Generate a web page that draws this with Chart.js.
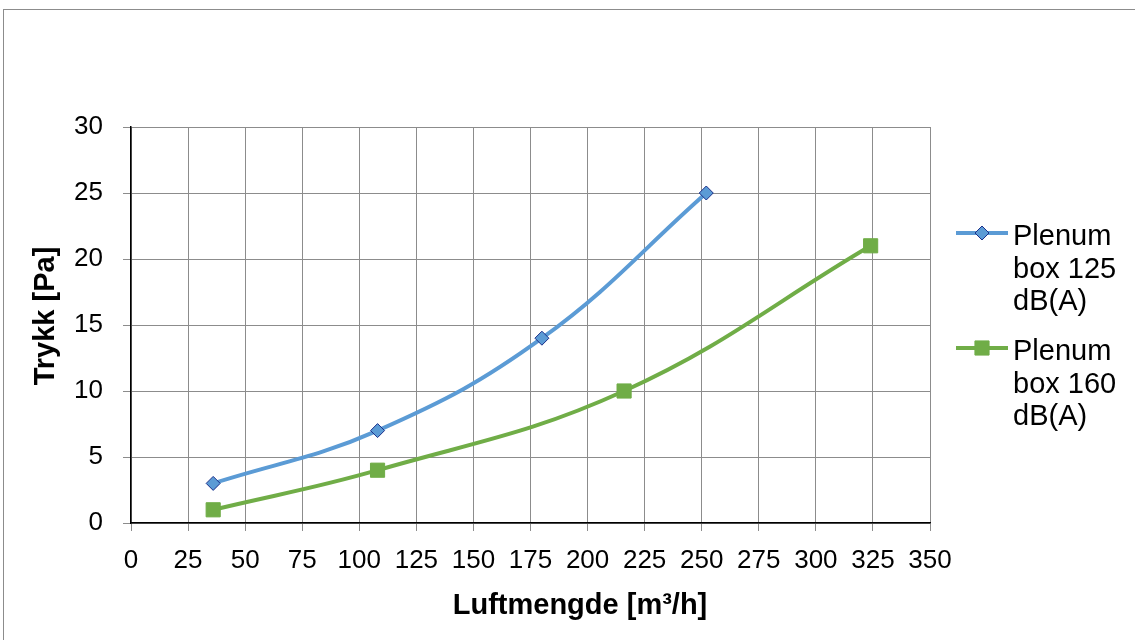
<!DOCTYPE html>
<html>
<head>
<meta charset="utf-8">
<script src="https://cdn.jsdelivr.net/npm/chart.js@4"></script>
<style>
  html, body { margin: 0; padding: 0; background: #fff; }
  #wrap { width: 1135px; height: 640px; }
</style>
</head>
<body>
<div id="wrap"><canvas id="trykkChart"></canvas></div>
<script>
// data
const flow125 = [36, 108, 180, 252];
const trykk125 = [3, 7, 14, 25];
const flow160 = [36, 108, 216, 324];
const trykk160 = [1, 4, 10, 21];
const seriesNames = [['Plenum', 'box 125', 'dB(A)'], ['Plenum', 'box 160', 'dB(A)']];
const xTitle = 'Luftmengde [m³/h]';
const yTitle = 'Trykk [Pa]';

const blue = '#5B9BD5';
const green = '#70AD47';
const fontFam = '"Liberation Sans", Arial, sans-serif';

function toPoints(xs, ys) {
    return xs.map(function(x, i) { return { x: x, y: ys[i] }; });
}

// outer frame like the spreadsheet chart border
const framePlugin = {
    id: 'frame',
    beforeDraw: function(chart) {
        const ctx = chart.ctx;
        ctx.save();
        ctx.strokeStyle = '#8c8c8c';
        ctx.lineWidth = 1;
        ctx.strokeRect(3.5, 9.5, 1200, 700);
        ctx.restore();
    }
};

// axis titles, placed where the original has them
const axisTitles = {
    id: 'axisTitles',
    afterDraw: function(chart) {
        const ctx = chart.ctx;
        ctx.save();
        ctx.fillStyle = '#000';
        ctx.font = 'bold 29px ' + fontFam;
        ctx.textAlign = 'center';
        ctx.textBaseline = 'middle';
        ctx.fillText(xTitle, 580, 606);
        ctx.translate(46, 316);
        ctx.rotate(-Math.PI / 2);
        ctx.fillText(yTitle, 0, 0);
        ctx.restore();
    }
};

// legend with wrapped labels, drawn to the right of the plot
const sideLegend = {
    id: 'sideLegend',
    afterDraw: function(chart) {
        const ctx = chart.ctx;
        const rows = [233, 348];
        ctx.save();
        chart.data.datasets.forEach(function(ds, i) {
            const y = rows[i];
            ctx.strokeStyle = ds.borderColor;
            ctx.lineWidth = 4;
            ctx.beginPath();
            ctx.moveTo(956, y);
            ctx.lineTo(1008, y);
            ctx.stroke();
            ctx.fillStyle = ds.pointBackgroundColor;
            ctx.strokeStyle = ds.pointBorderColor;
            ctx.lineWidth = ds.pointBorderWidth;
            ctx.beginPath();
            if (ds.pointStyle === 'rectRot') {
                const r = ds.pointRadius;
                ctx.moveTo(982 - r, y); ctx.lineTo(982, y - r);
                ctx.lineTo(982 + r, y); ctx.lineTo(982, y + r);
                ctx.closePath();
            } else {
                const s = ds.pointRadius * Math.SQRT1_2;
                ctx.rect(982 - s, y - s, 2 * s, 2 * s);
            }
            ctx.fill();
            ctx.stroke();
            ctx.fillStyle = '#000';
            ctx.font = '29px ' + fontFam;
            ctx.textBaseline = 'alphabetic';
            ds.label.forEach(function(line, k) {
                ctx.fillText(line, 1013, y + 12 + k * 32.5);
            });
        });
        ctx.restore();
    }
};

const tickFont = { family: fontFam, size: 26 };

const trykkCtx = document.getElementById('trykkChart').getContext('2d');
const trykkChart = new Chart(trykkCtx, {
    type: 'scatter',
    data: {
        datasets: [
            {
                label: seriesNames[0],
                data: toPoints(flow125, trykk125),
                showLine: true,
                tension: 0.4,
                borderColor: blue,
                borderWidth: 4,
                pointStyle: 'rectRot',
                pointRadius: 7,
                pointHoverRadius: 7,
                pointBackgroundColor: blue,
                pointBorderColor: '#1a2f8a',
                pointBorderWidth: 1
            },
            {
                label: seriesNames[1],
                data: toPoints(flow160, trykk160),
                showLine: true,
                tension: 0.4,
                borderColor: green,
                borderWidth: 4,
                pointStyle: 'rect',
                pointRadius: 10,
                pointHoverRadius: 10,
                pointBackgroundColor: green,
                pointBorderColor: green,
                pointBorderWidth: 1
            }
        ]
    },
    options: {
        responsive: true,
        maintainAspectRatio: false,
        animation: false,
        layout: { padding: { left: 10, top: 127, right: 205, bottom: 10 } },
        plugins: {
            legend: { display: false },
            tooltip: { enabled: false }
        },
        scales: {
            x: {
                type: 'linear',
                min: 0,
                max: 350,
                ticks: { stepSize: 25, color: '#000', font: tickFont, padding: 14, maxRotation: 0, autoSkip: false },
                grid: { color: '#8c8c8c', lineWidth: 1, tickLength: 8, tickColor: '#8c8c8c' },
                border: { color: '#000', width: 1.5 },
                afterFit: function(scale) { scale.height = 107; }
            },
            y: {
                min: 0,
                max: 30,
                ticks: { stepSize: 5, color: '#000', font: tickFont, padding: 20 },
                grid: { color: '#8c8c8c', lineWidth: 1, tickLength: 8, tickColor: '#8c8c8c' },
                border: { color: '#000', width: 1.5 },
                afterFit: function(scale) { scale.width = 121; }
            }
        }
    },
    plugins: [framePlugin, axisTitles, sideLegend]
});
</script>
</body>
</html>
